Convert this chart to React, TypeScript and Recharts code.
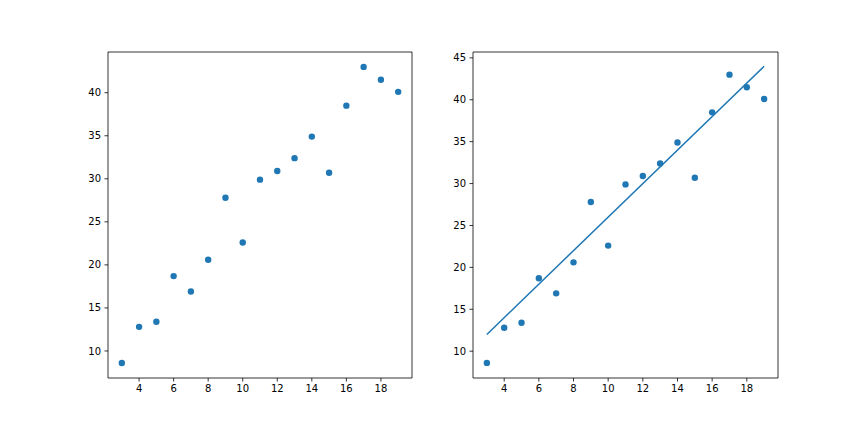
import React from 'react'
import {
  ScatterChart,
  Scatter,
  XAxis,
  YAxis,
  ReferenceArea
} from 'recharts'

// values
const xValues = [3, 4, 5, 6, 7, 8, 9, 10, 11, 12, 13, 14, 15, 16, 17, 18, 19]
const yValues = [8.6, 12.8, 13.4, 18.7, 16.9, 20.6, 27.8, 22.6, 29.9, 30.9, 32.4, 34.9, 30.7, 38.5, 43.0, 41.5, 40.1]
const fitX = [3, 19]
const fitY = [12, 44]

const xTicks = [4, 6, 8, 10, 12, 14, 16, 18]
const leftYTicks = [10, 15, 20, 25, 30, 35, 40]
const rightYTicks = [10, 15, 20, 25, 30, 35, 40, 45]

const xDomain: [number, number] = [2.2, 19.8]
const leftYDomain: [number, number] = [6.86, 44.73]
const rightYDomain: [number, number] = [6.8, 45.7]

const points = xValues.map((x, i) => ({ x, y: yValues[i] }))
const fitLine = fitX.map((x, i) => ({ x, y: fitY[i] }))

const BLUE = '#1f77b4'
const tickStyle = { fontFamily: 'DejaVu Sans', fontSize: 10, fill: '#000' }

const Dot = (props: any) => <circle cx={props.cx} cy={props.cy} r={3.2} fill={BLUE} />
const NoDot = () => <g />

function Panel({
  left,
  width,
  yAxisWidth,
  rightMargin,
  yDomain,
  yTicks,
  withFit
}: {
  left: number
  width: number
  yAxisWidth: number
  rightMargin: number
  yDomain: [number, number]
  yTicks: number[]
  withFit?: boolean
}) {
  return (
    <div style={{ position: 'absolute', left, top: 0 }}>
      <ScatterChart
        width={width}
        height={432}
        margin={{ top: 52, right: rightMargin, bottom: 0, left: 0 }}
      >
        <XAxis
          type="number"
          dataKey="x"
          domain={xDomain}
          ticks={xTicks}
          allowDataOverflow
          axisLine={false}
          tickSize={3.5}
          tickMargin={3.5}
          tickLine={{ stroke: '#000', strokeWidth: 0.8 }}
          tick={tickStyle}
          height={54}
        />
        <YAxis
          type="number"
          dataKey="y"
          domain={yDomain}
          ticks={yTicks}
          allowDataOverflow
          axisLine={false}
          tickSize={3.5}
          tickMargin={3.5}
          tickLine={{ stroke: '#000', strokeWidth: 0.8 }}
          tick={tickStyle}
          width={yAxisWidth}
        />
        <ReferenceArea
          x1={xDomain[0]}
          x2={xDomain[1]}
          y1={yDomain[0]}
          y2={yDomain[1]}
          fill="none"
          stroke="#000"
          strokeWidth={0.8}
          ifOverflow="visible"
        />
        {withFit && (
          <Scatter
            data={fitLine}
            line={{ stroke: BLUE, strokeWidth: 1.5 }}
            shape={NoDot}
            isAnimationActive={false}
          />
        )}
        <Scatter data={points} shape={Dot} isAnimationActive={false} />
      </ScatterChart>
    </div>
  )
}

export default function App() {
  return (
    <div style={{ position: 'absolute', left: 0, top: 0, width: 864, height: 432, background: '#fff' }}>
      <Panel left={0} width={420} yAxisWidth={108} rightMargin={8} yDomain={leftYDomain} yTicks={leftYTicks} />
      <Panel left={420} width={444} yAxisWidth={53} rightMargin={86} yDomain={rightYDomain} yTicks={rightYTicks} withFit />
    </div>
  )
}
